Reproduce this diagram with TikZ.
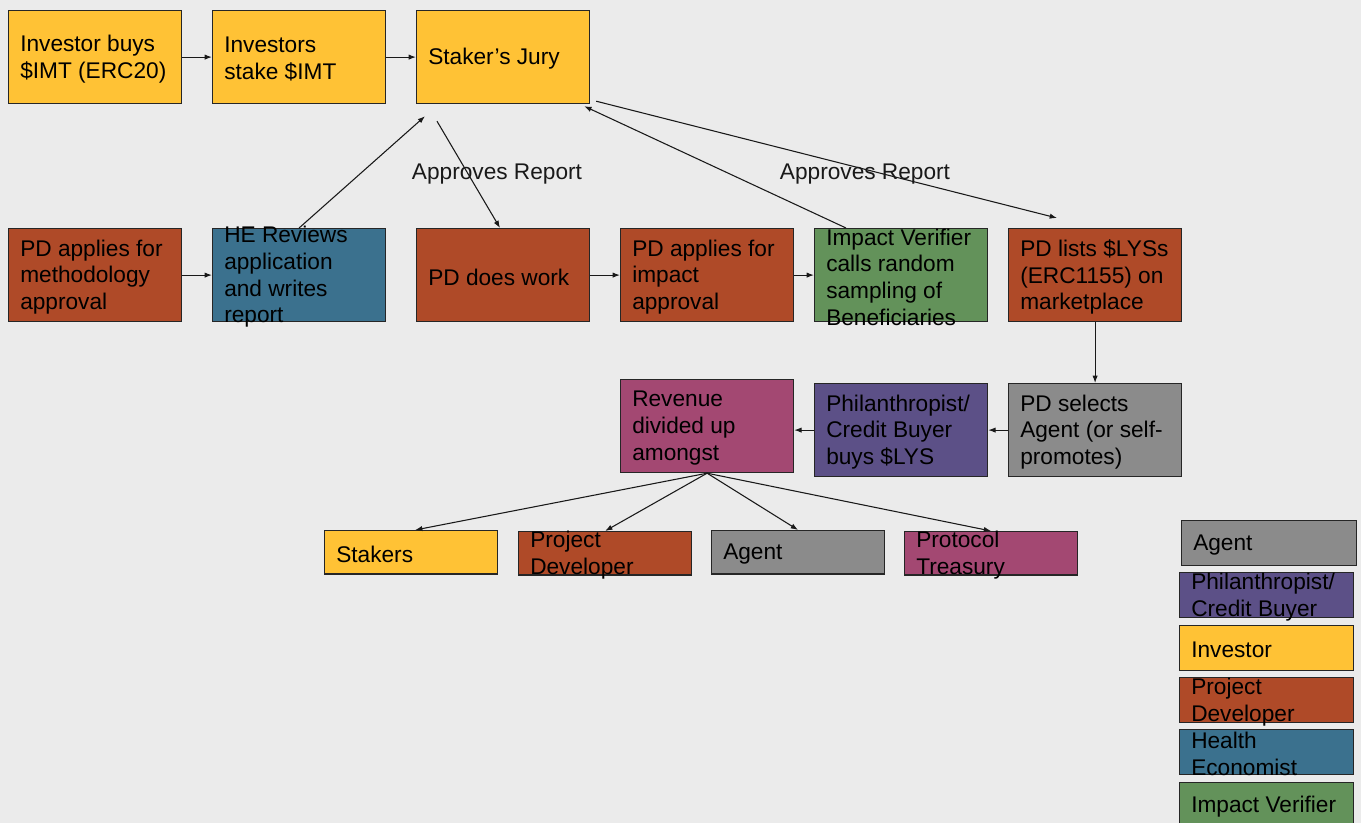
\documentclass[tikz,border=0pt]{standalone}
\usepackage{fontspec}
\setmainfont{Liberation Sans}
\usetikzlibrary{calc,arrows.meta}
\definecolor{bgc}{HTML}{EBEBEB}
\definecolor{yel}{HTML}{FFC235}
\definecolor{brn}{HTML}{AF4A28}
\definecolor{blu}{HTML}{3B718E}
\definecolor{grn}{HTML}{63925A}
\definecolor{pur}{HTML}{5C5087}
\definecolor{mag}{HTML}{A34872}
\definecolor{gry}{HTML}{8B8B8B}
\definecolor{edg}{HTML}{262626}
\newcommand{\bodyfont}{\fontsize{17}{20}\selectfont}
\tikzset{
  bx/.style={draw=edg, line width=0.9pt, fill=#1, anchor=north west, inner sep=0pt,
    minimum width=129.75pt, minimum height=69.75pt},
  short/.style={minimum height=32.5pt},
  lg/.style={minimum width=130.5pt, minimum height=33.5pt},
  tx/.style={label={[anchor=west, align=left, xshift=9pt, yshift=-1.5pt, font=\bodyfont, inner sep=0pt, text=black]west:{#1}}},
  conn/.style={draw=black!90, line width=0.8pt, -{Latex[length=5.5pt,width=4pt]}},
  lbl/.style={font=\bodyfont, inner sep=0pt, text=black!90}
}
\begin{document}
\begin{tikzpicture}[x=0.75pt,y=-0.75pt]
\fill[bgc] (0,0) rectangle (1361,823);
\useasboundingbox (0,0) rectangle (1361,823);
\clip (0,0) rectangle (1361,823);
% row 1
\node[bx=yel, tx={Investor buys\\\$IMT (ERC20)}] (buy) at (8,10) {};
\node[bx=yel, tx={Investors\\stake \$IMT}] (stake) at (212,10) {};
\node[bx=yel, tx={Staker’s Jury}] (jury) at (416,10) {};
% row 2
\node[bx=brn, tx={PD applies for\\methodology\\approval}] (meth) at (8,228) {};
\node[bx=blu, tx={HE Reviews\\application\\and writes\\report}] (he) at (212,228) {};
\node[bx=brn, tx={PD does work}] (work) at (416,228) {};
\node[bx=brn, tx={PD applies for\\impact\\approval}] (impact) at (620,228) {};
\node[bx=grn, tx={Impact Verifier\\calls random\\sampling of\\Beneficiaries}] (iv) at (814,228) {};
\node[bx=brn, tx={PD lists \$LYSs\\(ERC1155) on\\marketplace}] (lists) at (1008,228) {};
% row 3
\node[bx=mag, tx={Revenue\\divided up\\amongst}] (rev) at (620,379) {};
\node[bx=pur, tx={Philanthropist/\\Credit Buyer\\buys \$LYS}] (phil) at (814,383) {};
\node[bx=gry, tx={PD selects\\Agent (or self-\\promotes)}] (sel) at (1008,383) {};
% row 4
\node[bx=yel, short, tx={Stakers}] (stk) at (324,530) {};
\node[bx=brn, short, tx={Project\\Developer}] (pd) at (518,531) {};
\node[bx=gry, short, tx={Agent}] (ag) at (711,530) {};
\node[bx=mag, short, tx={Protocol\\Treasury}] (tre) at (904,531) {};
% legend
\node[bx=gry, lg, minimum width=131.25pt, tx={Agent}] (lagent) at (1181,520) {};
\node[bx=pur, lg, tx={Philanthropist/\\Credit Buyer}] (lphil) at (1179,572) {};
\node[bx=yel, lg, tx={Investor}] (linv) at (1179,625) {};
\node[bx=brn, lg, tx={Project\\Developer}] (lpd) at (1179,677) {};
\node[bx=blu, lg, tx={Health\\Economist}] (lhe) at (1179,729) {};
\node[bx=grn, lg, tx={Impact Verifier}] (liv) at (1179,782) {};
% labels
\node[lbl] (ap1) at (497,174) {Approves Report};
\node[lbl] (ap2) at (865,174) {Approves Report};
% connectors
\draw[conn] (buy.east) -- (stake.west);
\draw[conn] (stake.east) -- (jury.west);
\draw[conn] (meth.east) -- (he.west);
\draw[conn] (he.north) -- ($(jury.south west)+(9,12)$);
\draw[conn] ($(jury.south west)+(21,17)$) -- ($(work.north west)+(84,0)$);
\draw[conn] (work.east) -- (impact.west);
\draw[conn] (impact.east) -- (iv.west);
\draw[conn] ($(iv.north west)+(32,0)$) -- ($(jury.south east)+(-6,2)$);
\draw[conn] ($(jury.south east)+(6,-3)$) -- ($(lists.north west)+(49,-10)$);
\draw[conn] (lists.south) -- (sel.north);
\draw[conn] (sel.west) -- (phil.east);
\draw[conn] (phil.west) -- (rev.east |- phil.west);
\draw[conn] (rev.south) -- ($(stk.north)+(4,0)$);
\draw[conn] (rev.south) -- (pd.north);
\draw[conn] (rev.south) -- (ag.north);
\draw[conn] (rev.south) -- (tre.north);
\end{tikzpicture}
\end{document}
